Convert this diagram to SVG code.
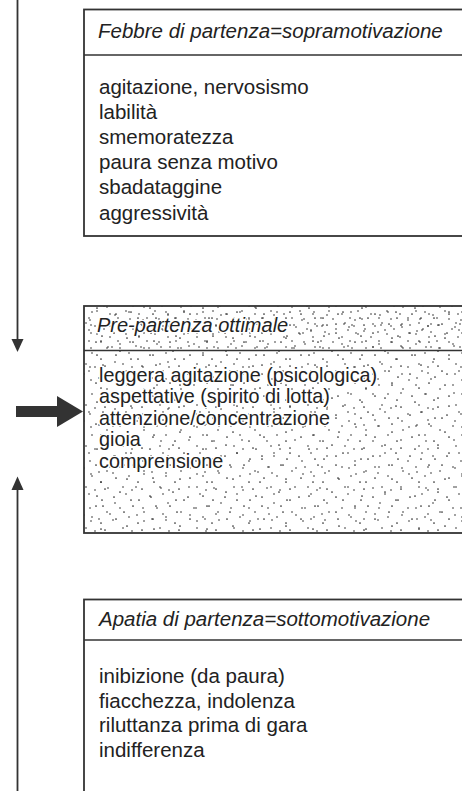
<svg xmlns="http://www.w3.org/2000/svg" width="462" height="791" viewBox="0 0 462 791">
<style>
.box{fill:none;stroke:#333;stroke-width:1.8}
.div{stroke:#333;stroke-width:1.6}
.hd{font-family:"Liberation Sans",Arial,sans-serif;font-style:italic;font-size:20.5px;fill:#222}
.it{font-family:"Liberation Sans",Arial,sans-serif;font-size:20.5px;fill:#222}
.it2{font-family:"Liberation Sans",Arial,sans-serif;font-size:19.8px;fill:#222}
.halo{stroke:#fff;stroke-width:2.6;stroke-linejoin:round;paint-order:stroke}
.ln{stroke:#333;stroke-width:1.8;fill:none}
.ah{fill:#333}
</style>
<defs>
<pattern id="dA" width="37" height="41" patternUnits="userSpaceOnUse">
<g fill="#2a2a2a">
<circle cx="3" cy="5" r="0.85"/><circle cx="15" cy="2" r="0.8"/><circle cx="28" cy="8" r="0.85"/>
<circle cx="9" cy="16" r="0.8"/><circle cx="22" cy="14" r="0.85"/><circle cx="33" cy="20" r="0.8"/>
<circle cx="5" cy="27" r="0.85"/><circle cx="18" cy="25" r="0.8"/><circle cx="27" cy="31" r="0.85"/>
<circle cx="12" cy="36" r="0.8"/><circle cx="31" cy="38" r="0.85"/><circle cx="21" cy="39" r="0.8"/>
</g>
</pattern>
<pattern id="dB" width="53" height="47" patternUnits="userSpaceOnUse">
<g fill="#2a2a2a">
<circle cx="7" cy="3" r="0.8"/><circle cx="21" cy="9" r="0.85"/><circle cx="38" cy="4" r="0.8"/>
<circle cx="48" cy="12" r="0.85"/><circle cx="2" cy="18" r="0.8"/><circle cx="14" cy="22" r="0.85"/>
<circle cx="30" cy="17" r="0.8"/><circle cx="44" cy="26" r="0.85"/><circle cx="9" cy="33" r="0.8"/>
<circle cx="25" cy="30" r="0.85"/><circle cx="37" cy="38" r="0.8"/><circle cx="50" cy="36" r="0.85"/>
<circle cx="4" cy="44" r="0.8"/><circle cx="18" cy="42" r="0.85"/><circle cx="31" cy="45" r="0.8"/>
<circle cx="46" cy="2" r="0.8"/>
</g>
</pattern>
<pattern id="dC" width="29" height="23" patternUnits="userSpaceOnUse">
<g fill="#2a2a2a">
<circle cx="4" cy="3" r="0.8"/><circle cx="17" cy="7" r="0.8"/><circle cx="25" cy="2" r="0.8"/>
<circle cx="10" cy="12" r="0.8"/><circle cx="23" cy="15" r="0.8"/><circle cx="2" cy="19" r="0.8"/>
<circle cx="14" cy="20" r="0.8"/>
</g>
</pattern>
</defs>
<rect width="462" height="791" fill="#fff"/>

<g id="connectors">
<line class="ln" x1="17.5" y1="0" x2="17.5" y2="341"/>
<polygon class="ah" points="11.5,339 23.5,339 17.5,352"/>
<line class="ln" x1="17.5" y1="489" x2="17.5" y2="791"/>
<polygon class="ah" points="11.5,490 23.5,490 17.5,476.5"/>
<rect class="ah" x="16" y="406" width="42" height="11"/>
<polygon class="ah" points="57,396 83,411.5 57,427"/>
</g>

<g id="box-febbre">
<rect class="box" x="84" y="9.5" width="400" height="226.5"/>
<line class="div" x1="84" y1="55" x2="462" y2="55"/>
<text class="hd" x="98" y="38">Febbre di partenza=sopramotivazione</text>
<text class="it" x="99" y="93.5">agitazione, nervosismo</text>
<text class="it" x="99" y="118.7">labilità</text>
<text class="it" x="99" y="143.9">smemoratezza</text>
<text class="it" x="99" y="169.1">paura senza motivo</text>
<text class="it" x="99" y="194.3">sbadataggine</text>
<text class="it" x="99" y="219.5">aggressività</text>
</g>

<g id="box-ottimale">
<rect x="84" y="306" width="400" height="227" fill="#fff"/>
<rect x="84" y="306" width="400" height="45" fill="url(#dC)"/>
<rect x="84" y="306" width="400" height="227" fill="url(#dA)"/>
<rect x="84" y="306" width="400" height="227" fill="url(#dB)"/>
<rect class="box" x="84" y="306" width="400" height="227"/>
<line class="div" x1="84" y1="350.5" x2="462" y2="350.5"/>
<text class="hd halo" x="97" y="331.5" style="font-size:20px">Pre-partenza ottimale</text>
<text class="it2 halo" x="99" y="381.5">leggera agitazione (psicologica)</text>
<text class="it2 halo" x="99" y="403">aspettative (spirito di lotta)</text>
<text class="it2 halo" x="99" y="424.5">attenzione/concentrazione</text>
<text class="it2 halo" x="99" y="446">gioia</text>
<text class="it2 halo" x="99" y="467.5">comprensione</text>
</g>

<g id="box-apatia">
<rect class="box" x="84" y="599.5" width="400" height="220"/>
<line class="div" x1="84" y1="640" x2="462" y2="640"/>
<text class="hd" x="99" y="626">Apatia di partenza=sottomotivazione</text>
<text class="it" x="99" y="683.3">inibizione (da paura)</text>
<text class="it" x="99" y="707.8">fiacchezza, indolenza</text>
<text class="it" x="99" y="732.3">riluttanza prima di gara</text>
<text class="it" x="99" y="756.8">indifferenza</text>
</g>
</svg>
